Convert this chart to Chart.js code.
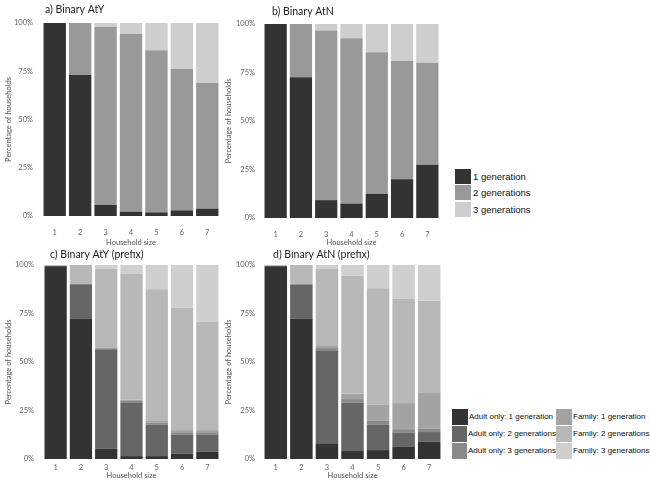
<!DOCTYPE html>
<html>
<head>
<meta charset="utf-8">
<script src="https://cdn.jsdelivr.net/npm/chart.js@4.4.1/dist/chart.umd.min.js"></script>
<style>
  body { margin: 0; background: #fff; font-family: "Liberation Sans", Arial, sans-serif; }
  #wrap { position: relative; width: 650px; height: 491px; }
  canvas { position: absolute; }
  .legend { position: absolute; font-size: 9.5px; color: #111; white-space: nowrap; }
  .legend .row { display: flex; align-items: center; height: 16.5px; }
  .legend .sw { width: 16px; height: 15px; margin-right: 2px; }
  .legend2 { font-size: 8px; }
  .legend2 .row { height: 17px; }
  .legend2 .sw { width: 16px; height: 16px; margin-right: 1px; }
</style>
</head>
<body>
<div id="wrap">
  <canvas id="cA" width="222" height="250" style="left:0;top:0"></canvas>
  <canvas id="cB" width="222" height="250" style="left:220px;top:0"></canvas>
  <canvas id="cC" width="222" height="230" style="left:0;top:250px"></canvas>
  <canvas id="cD" width="224" height="230" style="left:220px;top:250px"></canvas>
  <div class="legend" id="leg1" style="left:455px;top:168px"></div>
  <div class="legend legend2" id="leg2" style="left:452px;top:408px"></div>
</div>
<script>
// household sizes
const sizes = ['1', '2', '3', '4', '5', '6', '7'];
const yTicks = [0, 25, 50, 75, 100];

// a) Binary AtY
const atyGen1 = [100, 73, 5.7, 2.2, 1.9, 2.9, 3.8];
const atyGen2 = [0, 27, 92.2, 92.1, 84, 73.3, 65.2];
const atyGen3 = [0, 0, 2.1, 5.7, 14.1, 23.8, 31];

// b) Binary AtN
const atnGen1 = [100, 72.5, 9.2, 7.4, 12.5, 20, 27.4];
const atnGen2 = [0, 27.5, 87.4, 85.2, 73, 60.9, 52.6];
const atnGen3 = [0, 0, 3.4, 7.4, 14.5, 19.1, 20];

// c) Binary AtY (prefix)
const atyAdult1 = [99.3, 72.4, 5.3, 1.5, 1.5, 2.7, 3.8];
const atyAdult2 = [0.2, 17.7, 51.3, 27.8, 16.3, 10, 8.9];
const atyAdult3 = [0, 0, 0.5, 0.6, 1, 1.1, 1.1];
const atyFamily1 = [0, 0, 0.4, 0.6, 1.1, 1.1, 1.1];
const atyFamily2 = [0.5, 9.9, 40.7, 64.9, 67.6, 63.1, 55.8];
const atyFamily3 = [0, 0, 1.8, 4.6, 12.5, 22, 29.3];

// d) Binary AtN (prefix)
const atnAdult1 = [99.3, 72.2, 8.1, 4.1, 4.6, 6.5, 8.9];
const atnAdult2 = [0.2, 17.8, 48, 24.9, 13.2, 7.2, 5];
const atnAdult3 = [0, 0, 1.1, 1.9, 2.1, 1.7, 1.7];
const atnFamily1 = [0, 0, 1.1, 2.7, 8.2, 13.4, 18.4];
const atnFamily2 = [0.5, 10, 39.6, 60.9, 59.9, 53.7, 47.6];
const atnFamily3 = [0, 0, 2.1, 5.5, 12, 17.5, 18.4];

const genLabels = ['1 generation', '2 generations', '3 generations'];
const genColors = ['#333333', '#999999', '#cecece'];
const prefixLabels = ['Adult only: 1 generation', 'Adult only: 2 generations', 'Adult only: 3 generations',
  'Family: 1 generation', 'Family: 2 generations', 'Family: 3 generations'];
const prefixColors = ['#333333', '#666666', '#8a8a8a', '#a3a3a3', '#b8b8b8', '#cfcfcf'];

const tickFont = { family: 'Lato', size: 7.5 };

// panel title drawn a little right of the plot's left edge
const panelTitle = {
  id: 'panelTitle',
  afterDraw(chart, args, opts) {
    const ctx = chart.ctx;
    ctx.save();
    ctx.font = '10.5px Lato';
    ctx.fillStyle = '#222';
    ctx.textBaseline = 'middle';
    ctx.fillText(opts.text, chart.chartArea.left + opts.dx, opts.y);
    ctx.restore();
  }
};

const makeChart = (id, p) => {
  const datasets = p.series.map((d, i) => ({
    label: p.labels[i],
    data: d,
    backgroundColor: p.colors[i],
    borderWidth: 0,
    barPercentage: 0.88,
    categoryPercentage: 1
  }));
  return new Chart(document.getElementById(id), {
    type: 'bar',
    data: { labels: sizes, datasets },
    plugins: [panelTitle],
    options: {
      responsive: false,
      animation: false,
      layout: { padding: { top: p.top, right: 2, left: 0, bottom: 0 } },
      plugins: {
        legend: { display: false },
        tooltip: { enabled: false },
        panelTitle: { text: p.title, dx: p.dx, y: p.ty }
      },
      scales: {
        x: {
          stacked: true,
          grid: { display: false, drawTicks: false },
          border: { display: false },
          ticks: { color: '#666', font: tickFont, padding: p.xPad },
          title: { display: true, text: 'Household size', color: '#555', font: tickFont, padding: { top: 0, bottom: p.xTitlePad } },
          afterFit: (s) => { s.height = p.xHeight; }
        },
        y: {
          stacked: true,
          min: 0,
          max: 100,
          grid: { display: false, drawTicks: false },
          border: { display: false },
          afterBuildTicks: (s) => { s.ticks = yTicks.map(v => ({ value: v })); },
          ticks: { color: '#666', font: tickFont, padding: p.yPad, callback: (v) => v + '%' },
          title: { display: true, text: 'Percentage of households', color: '#555', font: tickFont, padding: { top: 4, bottom: 0 } },
          afterFit: (s) => { s.width = p.yWidth; }
        }
      }
    }
  });
};

makeChart('cA', { title: 'a) Binary AtY', labels: genLabels, colors: genColors,
  series: [atyGen1, atyGen2, atyGen3], top: 23, dx: 3, ty: 10,
  yWidth: 42, yPad: 9, xHeight: 34, xPad: 12, xTitlePad: 3 });
makeChart('cB', { title: 'b) Binary AtN', labels: genLabels, colors: genColors,
  series: [atnGen1, atnGen2, atnGen3], top: 24, dx: 9, ty: 12,
  yWidth: 43, yPad: 8, xHeight: 32, xPad: 12, xTitlePad: 3 });
makeChart('cC', { title: 'c) Binary AtY (prefix)', labels: prefixLabels, colors: prefixColors,
  series: [atyAdult1, atyAdult2, atyAdult3, atyFamily1, atyFamily2, atyFamily3], top: 15, dx: 7, ty: 5,
  yWidth: 43, yPad: 9, xHeight: 21, xPad: 4, xTitlePad: 0 });
makeChart('cD', { title: 'd) Binary AtN (prefix)', labels: prefixLabels, colors: prefixColors,
  series: [atnAdult1, atnAdult2, atnAdult3, atnFamily1, atnFamily2, atnFamily3], top: 15, dx: 10, ty: 5,
  yWidth: 43, yPad: 8, xHeight: 21, xPad: 4, xTitlePad: 0 });

// legends
const leg1 = document.getElementById('leg1');
genLabels.forEach((l, i) => {
  leg1.innerHTML += '<div class="row"><div class="sw" style="background:' + genColors[i] + '"></div>' + l + '</div>';
});
const leg2 = document.getElementById('leg2');
leg2.style.display = 'grid';
leg2.style.gridTemplateColumns = '104px auto';
leg2.style.gridAutoFlow = 'column';
leg2.style.gridTemplateRows = 'repeat(3, 17px)';
prefixLabels.forEach((l, i) => {
  leg2.innerHTML += '<div class="row"><div class="sw" style="background:' + prefixColors[i] + '"></div>' + l + '</div>';
});
</script>
</body>
</html>
